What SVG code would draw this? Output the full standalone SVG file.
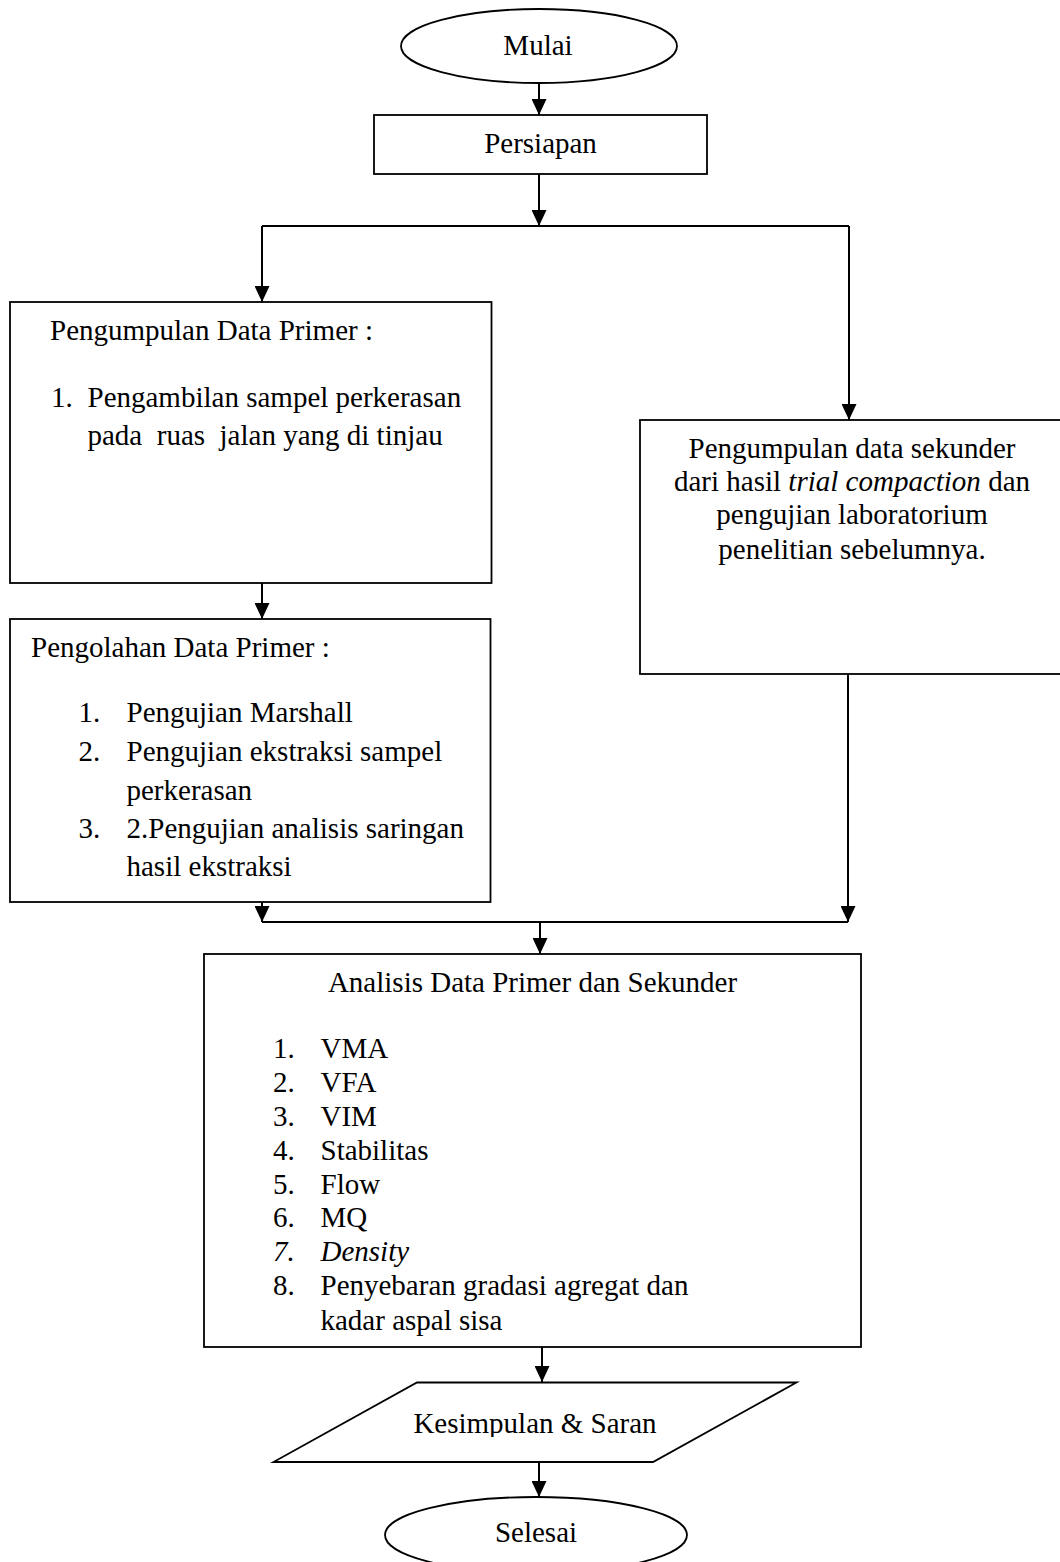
<svg xmlns="http://www.w3.org/2000/svg" width="1060" height="1562" viewBox="0 0 1060 1562">
<style>
text{font-family:"Liberation Serif","Times New Roman",serif;font-size:29px;fill:#000}
.c{text-anchor:middle}
.i{font-style:italic}
.box{fill:#fff;stroke:#000;stroke-width:1.8}
.con{fill:none;stroke:#000;stroke-width:2}
</style>
<defs>
<marker id="ah" markerUnits="userSpaceOnUse" markerWidth="16" markerHeight="15" refX="16" refY="7.5" orient="auto">
<path d="M0,0 L16,7.5 L0,15 z" fill="#000"/>
</marker>
<clipPath id="kclip"><rect x="380" y="1384" width="320" height="53"/></clipPath>
</defs>
<rect width="1060" height="1562" fill="#fff"/>

<g id="connectors">
<line class="con" x1="539" y1="83" x2="539" y2="115" marker-end="url(#ah)"/>
<line class="con" x1="539" y1="174" x2="539" y2="226" marker-end="url(#ah)"/>
<line class="con" x1="262" y1="226" x2="849" y2="226"/>
<line class="con" x1="262" y1="226" x2="262" y2="302" marker-end="url(#ah)"/>
<line class="con" x1="849" y1="226" x2="849" y2="420" marker-end="url(#ah)"/>
<line class="con" x1="262" y1="583" x2="262" y2="619" marker-end="url(#ah)"/>
<line class="con" x1="262" y1="902" x2="262" y2="922" marker-end="url(#ah)"/>
<line class="con" x1="848" y1="674" x2="848" y2="922" marker-end="url(#ah)"/>
<line class="con" x1="262" y1="922" x2="848" y2="922"/>
<line class="con" x1="540" y1="922" x2="540" y2="954" marker-end="url(#ah)"/>
<line class="con" x1="542" y1="1347" x2="542" y2="1382" marker-end="url(#ah)"/>
<line class="con" x1="539" y1="1462" x2="539" y2="1497" marker-end="url(#ah)"/>
</g>

<g id="mulai">
<ellipse class="box" cx="539" cy="46" rx="138" ry="37"/>
<text class="c" x="538" y="55">Mulai</text>
</g>

<g id="persiapan">
<rect class="box" x="374" y="115" width="333" height="59"/>
<text class="c" x="540.5" y="153">Persiapan</text>
</g>

<g id="pengumpulan-primer">
<rect class="box" x="10" y="302" width="481.5" height="281"/>
<text x="50" y="340">Pengumpulan Data Primer :</text>
<text x="51" y="407">1.</text>
<text x="87.5" y="407">Pengambilan sampel perkerasan</text>
<text x="87.5" y="445" xml:space="preserve">pada  ruas  jalan yang di tinjau</text>
</g>

<g id="pengumpulan-sekunder">
<rect class="box" x="640" y="420" width="424" height="254"/>
<text class="c" x="852" y="458">Pengumpulan data sekunder</text>
<text class="c" x="852" y="491">dari hasil <tspan class="i">trial compaction</tspan> dan</text>
<text class="c" x="852" y="524">pengujian laboratorium</text>
<text class="c" x="852" y="559">penelitian sebelumnya.</text>
</g>

<g id="pengolahan-primer">
<rect class="box" x="10" y="619" width="480.5" height="283"/>
<text x="31" y="657">Pengolahan Data Primer :</text>
<text x="78.5" y="722">1.</text>
<text x="126.5" y="722">Pengujian Marshall</text>
<text x="78.5" y="761">2.</text>
<text x="126.5" y="761">Pengujian ekstraksi sampel</text>
<text x="126.5" y="799.5">perkerasan</text>
<text x="78.5" y="838">3.</text>
<text x="126.5" y="838">2.Pengujian analisis saringan</text>
<text x="126.5" y="876">hasil ekstraksi</text>
</g>

<g id="analisis">
<rect class="box" x="204" y="954" width="657" height="393"/>
<text class="c" x="532.5" y="992">Analisis Data Primer dan Sekunder</text>
<text x="273" y="1058">1.</text><text x="320.5" y="1058">VMA</text>
<text x="273" y="1092">2.</text><text x="320.5" y="1092">VFA</text>
<text x="273" y="1126">3.</text><text x="320.5" y="1126">VIM</text>
<text x="273" y="1160">4.</text><text x="320.5" y="1160">Stabilitas</text>
<text x="273" y="1193.5">5.</text><text x="320.5" y="1193.5">Flow</text>
<text x="273" y="1227">6.</text><text x="320.5" y="1227">MQ</text>
<text class="i" x="273" y="1261">7.</text><text class="i" x="320.5" y="1261">Density</text>
<text x="273" y="1295">8.</text><text x="320.5" y="1295">Penyebaran gradasi agregat dan</text>
<text x="320.5" y="1329.5">kadar aspal sisa</text>
</g>

<g id="kesimpulan">
<polygon class="box" points="417,1382.5 796.5,1382.5 653,1462 273.5,1462"/>
<text class="c" x="535" y="1433" clip-path="url(#kclip)">Kesimpulan &amp; Saran</text>
</g>

<g id="selesai">
<ellipse class="box" cx="536" cy="1535" rx="151" ry="38"/>
<text class="c" x="536" y="1542">Selesai</text>
</g>
</svg>
